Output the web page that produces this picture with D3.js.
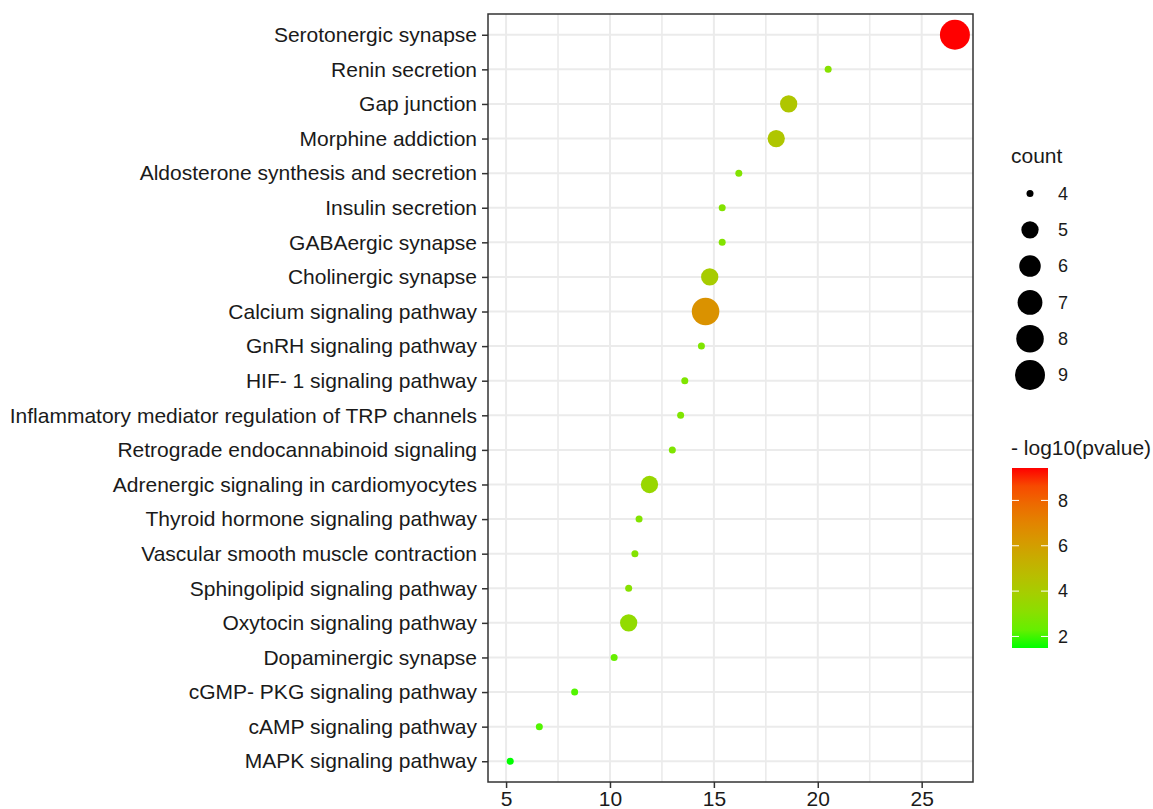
<!DOCTYPE html>
<html>
<head>
<meta charset="utf-8">
<script src="https://cdn.jsdelivr.net/npm/d3@7"></script>
<style>
  body { margin: 0; background: #fff; }
  text { font-family: Arial, "Liberation Sans", sans-serif; }
</style>
</head>
<body>
<div id="chart-area"></div>
<script>
// pathways, top to bottom
const pathways = [
    "Serotonergic synapse", "Renin secretion", "Gap junction", "Morphine addiction",
    "Aldosterone synthesis and secretion", "Insulin secretion", "GABAergic synapse",
    "Cholinergic synapse", "Calcium signaling pathway", "GnRH signaling pathway",
    "HIF- 1 signaling pathway", "Inflammatory mediator regulation of TRP channels",
    "Retrograde endocannabinoid signaling", "Adrenergic signaling in cardiomyocytes",
    "Thyroid hormone signaling pathway", "Vascular smooth muscle contraction",
    "Sphingolipid signaling pathway", "Oxytocin signaling pathway", "Dopaminergic synapse",
    "cGMP- PKG signaling pathway", "cAMP signaling pathway", "MAPK signaling pathway"
];
const xValues = [26.6, 20.5, 18.6, 18.0, 16.2, 15.4, 15.4, 14.8, 14.6, 14.4, 13.6, 13.4,
    13.0, 11.9, 11.4, 11.2, 10.9, 10.9, 10.2, 8.3, 6.6, 5.2];
const counts = [9, 4, 5, 5, 4, 4, 4, 5, 8, 4, 4, 4, 4, 5, 4, 4, 4, 5, 4, 4, 4, 4];
const logP = [9.43, 3.0, 4.3, 4.3, 2.9, 2.9, 2.9, 4.0, 6.5, 2.8, 2.8, 2.8, 2.8, 3.5, 2.9,
    2.9, 3.0, 3.3, 2.3, 2.0, 2.0, 1.49];
const xTicks = [5, 10, 15, 20, 25];
const xMinor = [7.5, 12.5, 17.5, 22.5, 27.5];
const countTicks = [4, 5, 6, 7, 8, 9];
const colorTicks = [2, 4, 6, 8];

const data = pathways.map((p, i) => ({ name: p, x: xValues[i], count: counts[i], p: logP[i] }));

const W = 1153, H = 809;
const panel = { left: 488, right: 973, top: 14, bottom: 782 };

const svg = d3.select('#chart-area').append('svg')
    .attr('width', W).attr('height', H);

const xScale = d3.scaleLinear()
    .domain([4.13, 27.47])
    .range([panel.left, panel.right]);

const yScale = d3.scalePoint()
    .domain(pathways)
    .range([panel.top, panel.bottom])
    .padding(0.6);

const colorScale = d3.scaleLinear()
    .domain(d3.extent(logP))
    .range(["#00ff00", "#ff0000"])
    .interpolate(d3.interpolateLab);

// ggplot-like area palette: size 1..6 by sqrt of rescaled count
const cExt = d3.extent(counts);
const sizeToR = d3.scaleLinear().domain([1, 6]).range([3.5, 15]);
const radius = c => sizeToR(1 + 5 * Math.sqrt((c - cExt[0]) / (cExt[1] - cExt[0])));

// panel background + grid
svg.append('rect')
    .attr('x', panel.left).attr('y', panel.top)
    .attr('width', panel.right - panel.left).attr('height', panel.bottom - panel.top)
    .attr('fill', 'white');

const grid = svg.append('g');
grid.selectAll('.minor').data(xMinor.filter(v => xScale(v) < panel.right)).enter()
    .append('line')
    .attr('x1', d => xScale(d)).attr('x2', d => xScale(d))
    .attr('y1', panel.top).attr('y2', panel.bottom)
    .attr('stroke', '#ebebeb').attr('stroke-width', 1.6);
grid.selectAll('.vmajor').data(xTicks).enter()
    .append('line')
    .attr('x1', d => xScale(d)).attr('x2', d => xScale(d))
    .attr('y1', panel.top).attr('y2', panel.bottom)
    .attr('stroke', '#ebebeb').attr('stroke-width', 2);
grid.selectAll('.hmajor').data(pathways).enter()
    .append('line')
    .attr('x1', panel.left).attr('x2', panel.right)
    .attr('y1', d => yScale(d)).attr('y2', d => yScale(d))
    .attr('stroke', '#ebebeb').attr('stroke-width', 2);

// points
svg.append('g').selectAll('circle').data(data).enter()
    .append('circle')
    .attr('cx', d => xScale(d.x))
    .attr('cy', d => yScale(d.name))
    .attr('r', d => radius(d.count))
    .attr('fill', d => colorScale(d.p));

// panel border
svg.append('rect')
    .attr('x', panel.left).attr('y', panel.top)
    .attr('width', panel.right - panel.left).attr('height', panel.bottom - panel.top)
    .attr('fill', 'none').attr('stroke', '#333').attr('stroke-width', 1.5);

// axes
const xAxisGroup = svg.append('g')
    .attr('transform', `translate(0, ${panel.bottom})`)
    .call(d3.axisBottom(xScale).tickValues(xTicks).tickSize(6).tickPadding(4));
const yAxisGroup = svg.append('g')
    .attr('transform', `translate(${panel.left}, 0)`)
    .call(d3.axisLeft(yScale).tickSize(6).tickPadding(5));

[xAxisGroup, yAxisGroup].forEach(g => {
    g.select('.domain').remove();
    g.selectAll('.tick line').attr('stroke', '#333').attr('stroke-width', 1.5);
    g.selectAll('text')
        .attr('font-size', '21px')
        .attr('font-family', 'Arial, "Liberation Sans", sans-serif')
        .style('fill', '#1a1a1a');
});
xAxisGroup.selectAll('text').attr('dy', '0.68em');

// size legend
const legX = 1011;
svg.append('text').attr('x', legX).attr('y', 163)
    .attr('font-size', '21px').style('fill', '#1a1a1a').text('count');
const sizeLeg = svg.append('g').selectAll('g').data(countTicks).enter().append('g')
    .attr('transform', (d, i) => `translate(${1030}, ${193.5 + i * 36.3})`);
sizeLeg.append('circle').attr('r', d => radius(d)).attr('fill', 'black');
sizeLeg.append('text').attr('x', 28).attr('dy', '0.35em')
    .attr('font-size', '18px').style('fill', '#1a1a1a').text(d => d);

// colour legend
const barTop = 468, barBottom = 648, barX = 1012, barW = 36;
svg.append('text').attr('x', legX).attr('y', 455)
    .attr('font-size', '21px').style('fill', '#1a1a1a').text('- log10(pvalue)');

const defs = svg.append('defs');
const grad = defs.append('linearGradient').attr('id', 'pgrad')
    .attr('x1', 0).attr('y1', 1).attr('x2', 0).attr('y2', 0);
const pExt = colorScale.domain();
d3.range(0, 1.0001, 0.1).forEach(t => {
    grad.append('stop').attr('offset', t)
        .attr('stop-color', colorScale(pExt[0] + t * (pExt[1] - pExt[0])));
});
svg.append('rect').attr('x', barX).attr('y', barTop)
    .attr('width', barW).attr('height', barBottom - barTop)
    .attr('fill', 'url(#pgrad)');

const cLegScale = d3.scaleLinear().domain(pExt).range([barBottom, barTop]);
const cTicks = svg.append('g').selectAll('g').data(colorTicks).enter().append('g')
    .attr('transform', d => `translate(0, ${cLegScale(d)})`);
cTicks.append('line').attr('x1', barX).attr('x2', barX + 7)
    .attr('stroke', 'white').attr('stroke-width', 1);
cTicks.append('line').attr('x1', barX + barW - 7).attr('x2', barX + barW)
    .attr('stroke', 'white').attr('stroke-width', 1);
cTicks.append('text').attr('x', 1058).attr('dy', '0.35em')
    .attr('font-size', '18px').style('fill', '#1a1a1a').text(d => d);
</script>
</body>
</html>
